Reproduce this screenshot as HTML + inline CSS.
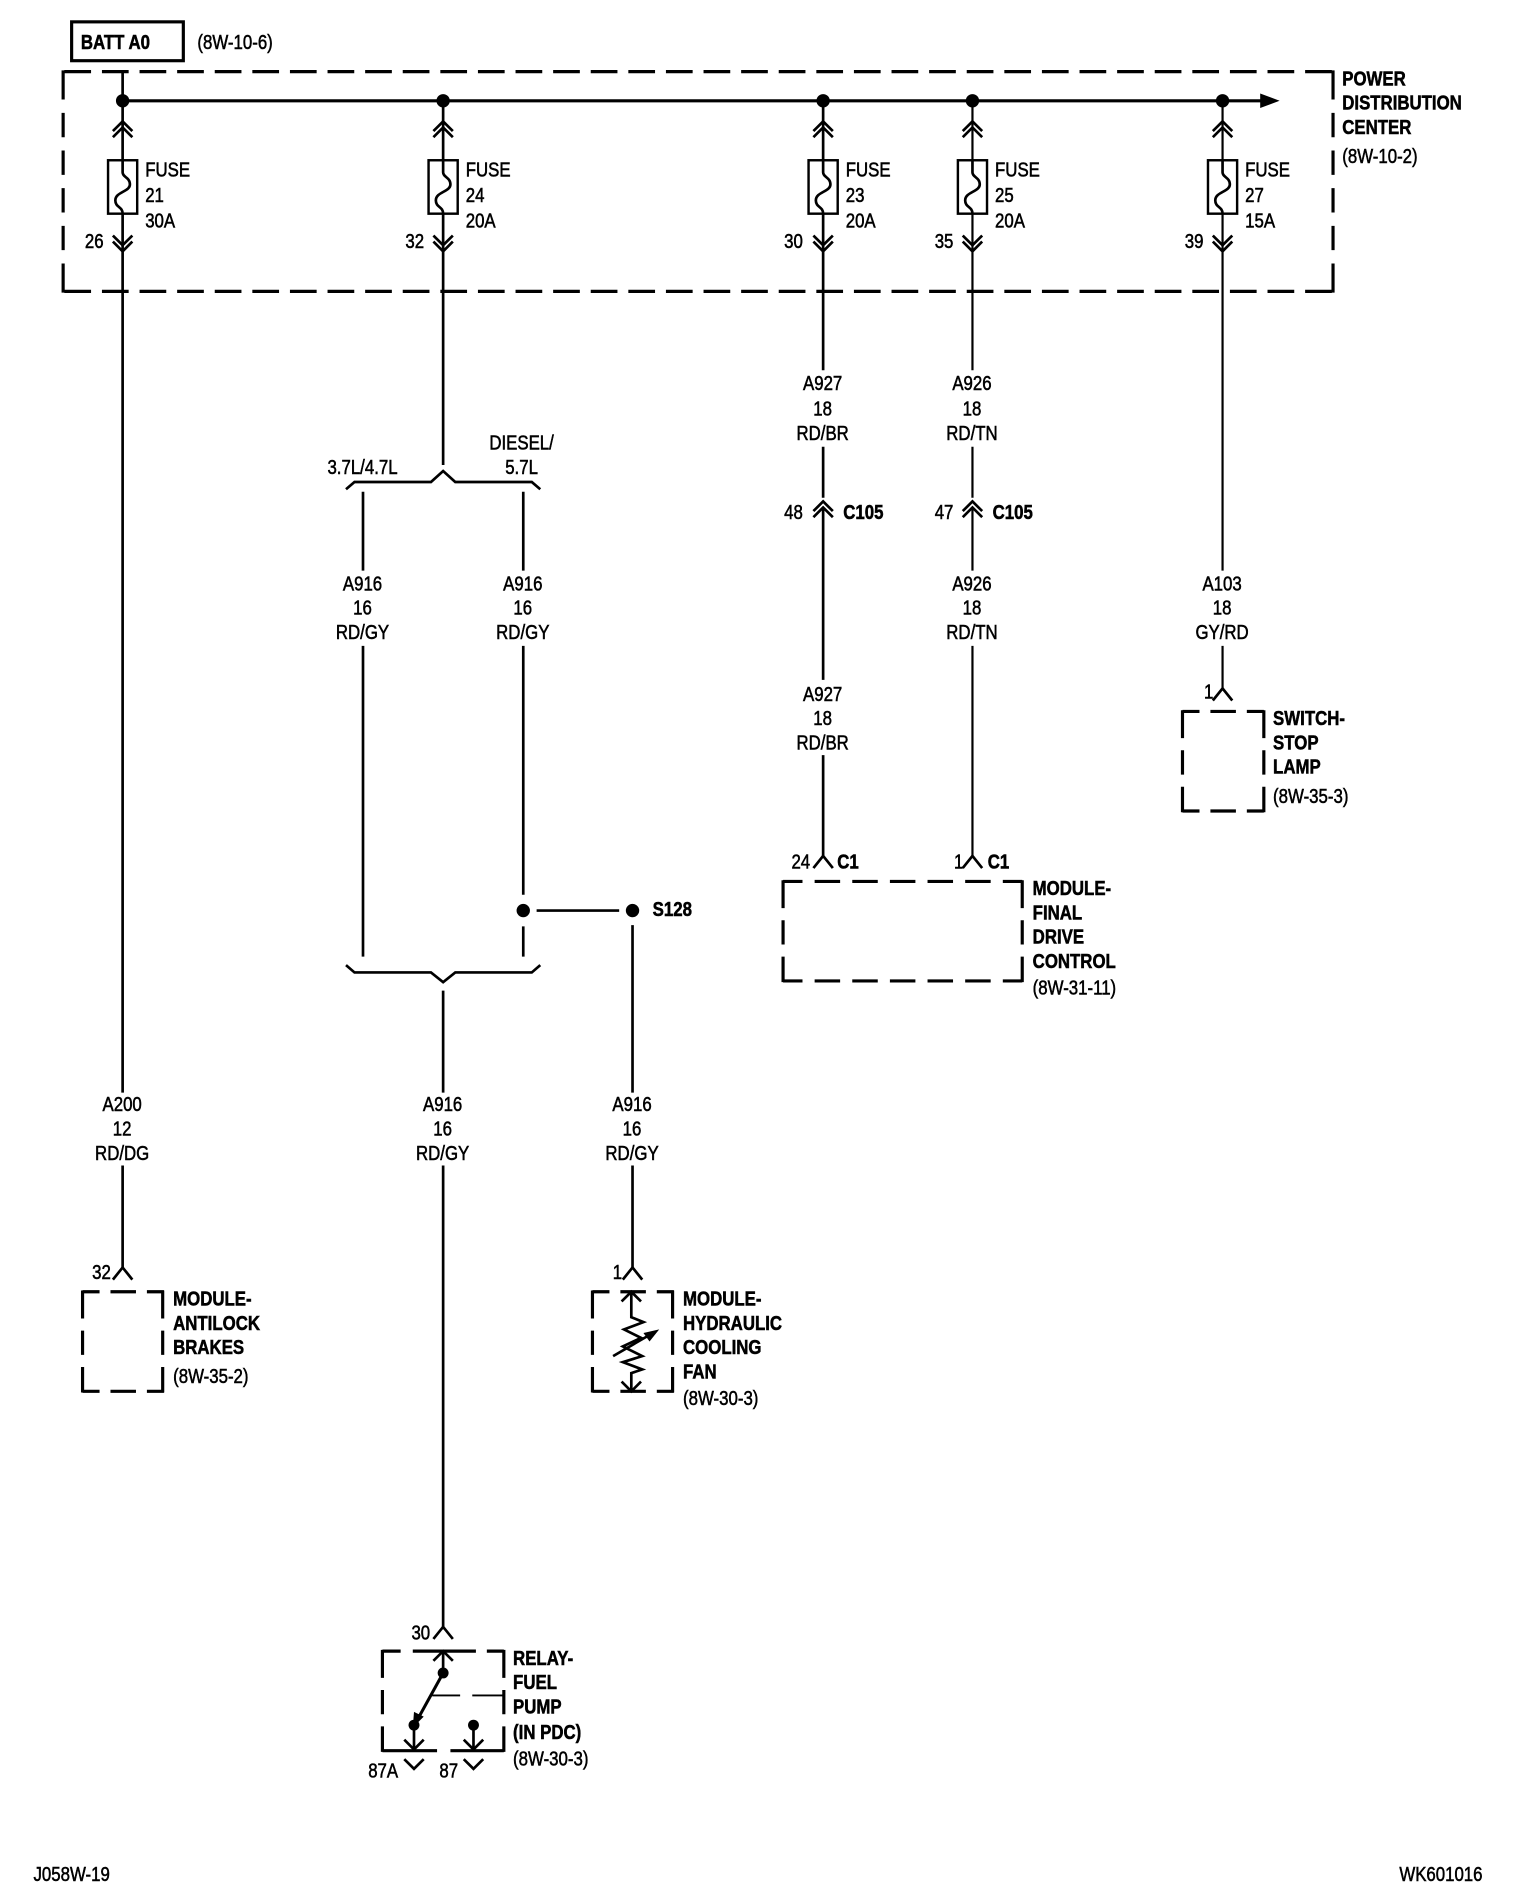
<!DOCTYPE html>
<html><head><meta charset="utf-8"><style>
html,body{margin:0;padding:0;background:#fff}
svg{display:block}
text{font-family:"Liberation Sans",sans-serif;font-size:16.5px;fill:#000;stroke:#000;stroke-width:.45}
.m{text-anchor:middle}
.b{font-weight:bold}
path,line{fill:none;stroke:#000;stroke-width:2.2}
.t{stroke-width:1.8}
.d{stroke-width:2.6}
.v{stroke-width:2.6;stroke-dasharray:23 10 20 10 23}
.h{stroke-width:2.6;stroke-dasharray:14 9 21 9 14}
.f{fill:#000;stroke:none}
</style></head><body>
<svg width="1520" height="1904" viewBox="0 0 1252 1568.3" xmlns="http://www.w3.org/2000/svg">
<defs>
<g id="du"><path d="M-8,8L0,0L8,8M-8,13L0,5L8,13"/></g>
<g id="dd"><path d="M-8,-8L0,0L8,-8M-8,-13L0,-5L8,-13"/></g>
<path id="a" d="M-8,10L0,0L8,10"/>
<path id="w" d="M-8,-8L0,0L8,-8"/>
<g id="fu"><rect x="-12" y="132" width="24" height="44" style="fill:#fff;stroke:#000;stroke-width:2"/><path d="M0,132V142C0,146 6,146 6,152C6,158 -6,158 -6,165C-6,171 0,170 0,176"/></g>
</defs>
<rect width="1252" height="1568.3" fill="#fff"/>

<!-- BATT -->
<rect x="59" y="18" width="92" height="32" style="fill:none;stroke:#000;stroke-width:2.6"/>

<!-- PDC dashed -->
<path class="d" d="M53,59H1098" stroke-dasharray="22 8.97"/>
<path class="d" d="M53,240H1098" stroke-dasharray="22 8.97"/>
<path class="d" d="M52,58V241" stroke-dasharray="24 11 20 11 20 11 20 11 20 11 24"/>
<path class="d" d="M1098,58V241" stroke-dasharray="24 11 20 11 20 11 20 11 20 11 24"/>

<!-- bus -->
<path d="M101,83H1040" style="stroke-width:2.6"/>
<path class="f" d="M1038,77L1054,83L1038,89Z"/>
<circle class="f" cx="101" cy="83" r="5.5"/><circle class="f" cx="365" cy="83" r="5.5"/><circle class="f" cx="678" cy="83" r="5.5"/><circle class="f" cx="801" cy="83" r="5.5"/><circle class="f" cx="1007" cy="83" r="5.5"/>

<!-- wires -->
<path d="M101,59V132M101,176V900M101,960V1045"/>
<path d="M365,83V132M365,176V383M365,816V900M365,960V1342"/>
<path d="M678,83V132M678,176V305M678,368V410M678,418V560M678,622V705"/>
<path class="t" d="M801,83V132M801,176V305M801,368V410M801,418V470M801,532V705"/>
<path class="t" d="M1007,83V132M1007,176V470M1007,532V568"/>
<path d="M299,405V470M299,532V788M431,405V470M431,532V737M431,763V788"/>
<path d="M442,750H510M521,762V900M521,960V1045"/>
<circle class="f" cx="431" cy="750" r="5.5"/><circle class="f" cx="521" cy="750" r="5.5"/>

<!-- braces -->
<path d="M285,403L292,397H355L365,388L375,397H438L445,403"/>
<path d="M285,795L292,801H355L365,809L375,801H438L445,795"/>

<!-- fuses and chevrons -->
<use href="#fu" x="101"/><use href="#fu" x="365"/><use href="#fu" x="678"/><use href="#fu" x="801"/><use href="#fu" x="1007"/>
<use href="#du" x="101" y="100"/><use href="#du" x="365" y="100"/><use href="#du" x="678" y="100"/><use href="#du" x="801" y="100"/><use href="#du" x="1007" y="100"/>
<use href="#dd" x="101" y="207"/><use href="#dd" x="365" y="207"/><use href="#dd" x="678" y="207"/><use href="#dd" x="801" y="207"/><use href="#dd" x="1007" y="207"/>
<use href="#du" x="678" y="413"/><use href="#du" x="801" y="413"/>

<!-- connector pins -->
<use href="#a" x="1007" y="567"/><use href="#a" x="678" y="705"/><use href="#a" x="801" y="705"/><use href="#a" x="101" y="1044"/><use href="#a" x="521" y="1044"/><use href="#a" x="365" y="1340"/>

<!-- switch box -->
<path class="v" d="M974,585V669M1041,585V669"/><path class="h" d="M974,586H1041M974,668H1041"/>
<!-- final drive box -->
<path class="v" d="M645,725V809M842,725V809"/>
<path class="d" stroke-dasharray="16 10 21 10 21 10 21 10 21 10 21 10 16" d="M645,726H842M645,808H842"/>
<!-- antilock box -->
<path class="v" d="M68,1063V1147M134,1063V1147"/><path class="h" d="M68,1064H135M68,1146H135"/>
<!-- hydraulic box -->
<path class="v" d="M488,1063V1147M554,1063V1147"/><path class="h" d="M488,1064H555M488,1146H555"/>
<path d="M520,1065V1085L530,1089L514,1095L528,1102L513,1109L529,1117L513,1122L529,1128L520,1131V1145"/>
<path d="M512,1072L520,1064L528,1072M512,1138L520,1146L528,1138"/>
<path d="M505,1117L536,1099" />
<path class="f" d="M543,1095L530,1098L535,1105Z"/>
<!-- relay box -->
<path class="v" d="M315,1359V1443M415,1359V1443"/>
<path class="d" d="M315,1360H330M340,1360H392M401,1360H415M315,1442H360M371,1442H415"/>
<path d="M356,1396.5H379M389,1396.5H414" style="stroke-width:1.5"/>
<path d="M365,1361V1378M390,1421V1441M341,1421V1441"/>
<path d="M357,1368L365,1360L373,1368"/>
<path d="M365,1378L343,1418" style="stroke-width:2.5"/>
<path class="f" d="M340,1423L341,1410L349,1414Z"/>
<circle class="f" cx="365" cy="1378" r="4.5"/><circle class="f" cx="341" cy="1421" r="4.5"/><circle class="f" cx="390" cy="1421" r="4.5"/>
<use href="#w" x="341" y="1441"/><use href="#w" x="390" y="1441"/>
<use href="#w" x="341" y="1457"/><use href="#w" x="390" y="1457"/>

<g transform="translate(-.4,-.7)">
<text class="b" transform="translate(67,41) scale(.84,1)">BATT A0</text>
<text transform="translate(163,41) scale(.84,1)">(8W-10-6)</text>

<!-- PDC labels -->
<text class="b" transform="translate(1106,71) scale(.84,1)">POWER</text>
<text class="b" transform="translate(1106,91) scale(.84,1)">DISTRIBUTION</text>
<text class="b" transform="translate(1106,111) scale(.84,1)">CENTER</text>
<text transform="translate(1106,135) scale(.84,1)">(8W-10-2)</text>

<!-- fuse labels -->
<text transform="translate(120,146) scale(.84,1)">FUSE</text><text transform="translate(120,167) scale(.84,1)">21</text><text transform="translate(120,188) scale(.84,1)">30A</text>
<text transform="translate(384,146) scale(.84,1)">FUSE</text><text transform="translate(384,167) scale(.84,1)">24</text><text transform="translate(384,188) scale(.84,1)">20A</text>
<text transform="translate(697,146) scale(.84,1)">FUSE</text><text transform="translate(697,167) scale(.84,1)">23</text><text transform="translate(697,188) scale(.84,1)">20A</text>
<text transform="translate(820,146) scale(.84,1)">FUSE</text><text transform="translate(820,167) scale(.84,1)">25</text><text transform="translate(820,188) scale(.84,1)">20A</text>
<text transform="translate(1026,146) scale(.84,1)">FUSE</text><text transform="translate(1026,167) scale(.84,1)">27</text><text transform="translate(1026,188) scale(.84,1)">15A</text>

<text class="m" transform="translate(78,205) scale(.84,1)">26</text>
<text class="m" transform="translate(342,205) scale(.84,1)">32</text>
<text class="m" transform="translate(654,205) scale(.84,1)">30</text>
<text class="m" transform="translate(778,205) scale(.84,1)">35</text>
<text class="m" transform="translate(984,205) scale(.84,1)">39</text>

<!-- wire labels -->
<text class="m" transform="translate(678,322) scale(.84,1)">A927</text><text class="m" transform="translate(678,343) scale(.84,1)">18</text><text class="m" transform="translate(678,363) scale(.84,1)">RD/BR</text>
<text class="m" transform="translate(801,322) scale(.84,1)">A926</text><text class="m" transform="translate(801,343) scale(.84,1)">18</text><text class="m" transform="translate(801,363) scale(.84,1)">RD/TN</text>

<text class="m" transform="translate(430,371) scale(.84,1)">DIESEL/</text>
<text class="m" transform="translate(430,391) scale(.84,1)">5.7L</text>
<text class="m" transform="translate(299,391) scale(.84,1)">3.7L/4.7L</text>

<text class="m" transform="translate(654,428) scale(.84,1)">48</text><text class="b" transform="translate(695,428) scale(.84,1)">C105</text>
<text class="m" transform="translate(778,428) scale(.84,1)">47</text><text class="b" transform="translate(818,428) scale(.84,1)">C105</text>

<text class="m" transform="translate(299,487) scale(.84,1)">A916</text><text class="m" transform="translate(299,507) scale(.84,1)">16</text><text class="m" transform="translate(299,527) scale(.84,1)">RD/GY</text>
<text class="m" transform="translate(431,487) scale(.84,1)">A916</text><text class="m" transform="translate(431,507) scale(.84,1)">16</text><text class="m" transform="translate(431,527) scale(.84,1)">RD/GY</text>
<text class="m" transform="translate(801,487) scale(.84,1)">A926</text><text class="m" transform="translate(801,507) scale(.84,1)">18</text><text class="m" transform="translate(801,527) scale(.84,1)">RD/TN</text>
<text class="m" transform="translate(1007,487) scale(.84,1)">A103</text><text class="m" transform="translate(1007,507) scale(.84,1)">18</text><text class="m" transform="translate(1007,527) scale(.84,1)">GY/RD</text>
<text class="m" transform="translate(678,578) scale(.84,1)">A927</text><text class="m" transform="translate(678,598) scale(.84,1)">18</text><text class="m" transform="translate(678,618) scale(.84,1)">RD/BR</text>

<text class="m" transform="translate(996,576) scale(.84,1)">1</text>
<text class="b" transform="translate(1049,598) scale(.84,1)">SWITCH-</text>
<text class="b" transform="translate(1049,618) scale(.84,1)">STOP</text>
<text class="b" transform="translate(1049,638) scale(.84,1)">LAMP</text>
<text transform="translate(1049,662) scale(.84,1)">(8W-35-3)</text>

<text class="m" transform="translate(660,716) scale(.84,1)">24</text><text class="b" transform="translate(690,716) scale(.84,1)">C1</text>
<text class="m" transform="translate(790,716) scale(.84,1)">1</text><text class="b" transform="translate(814,716) scale(.84,1)">C1</text>
<text class="b" transform="translate(851,738) scale(.84,1)">MODULE-</text>
<text class="b" transform="translate(851,758) scale(.84,1)">FINAL</text>
<text class="b" transform="translate(851,778) scale(.84,1)">DRIVE</text>
<text class="b" transform="translate(851,798) scale(.84,1)">CONTROL</text>
<text transform="translate(851,820) scale(.84,1)">(8W-31-11)</text>

<text class="b" transform="translate(538,755) scale(.84,1)">S128</text>

<text class="m" transform="translate(101,916) scale(.84,1)">A200</text><text class="m" transform="translate(101,936) scale(.84,1)">12</text><text class="m" transform="translate(101,956) scale(.84,1)">RD/DG</text>
<text class="m" transform="translate(365,916) scale(.84,1)">A916</text><text class="m" transform="translate(365,936) scale(.84,1)">16</text><text class="m" transform="translate(365,956) scale(.84,1)">RD/GY</text>
<text class="m" transform="translate(521,916) scale(.84,1)">A916</text><text class="m" transform="translate(521,936) scale(.84,1)">16</text><text class="m" transform="translate(521,956) scale(.84,1)">RD/GY</text>

<text class="m" transform="translate(84,1054) scale(.84,1)">32</text>
<text class="b" transform="translate(143,1076) scale(.84,1)">MODULE-</text>
<text class="b" transform="translate(143,1096) scale(.84,1)">ANTILOCK</text>
<text class="b" transform="translate(143,1116) scale(.84,1)">BRAKES</text>
<text transform="translate(143,1140) scale(.84,1)">(8W-35-2)</text>

<text class="m" transform="translate(509,1054) scale(.84,1)">1</text>
<text class="b" transform="translate(563,1076) scale(.84,1)">MODULE-</text>
<text class="b" transform="translate(563,1096) scale(.84,1)">HYDRAULIC</text>
<text class="b" transform="translate(563,1116) scale(.84,1)">COOLING</text>
<text class="b" transform="translate(563,1136) scale(.84,1)">FAN</text>
<text transform="translate(563,1158) scale(.84,1)">(8W-30-3)</text>

<text class="m" transform="translate(347,1351) scale(.84,1)">30</text>
<text class="b" transform="translate(423,1372) scale(.84,1)">RELAY-</text>
<text class="b" transform="translate(423,1392) scale(.84,1)">FUEL</text>
<text class="b" transform="translate(423,1412) scale(.84,1)">PUMP</text>
<text class="b" transform="translate(423,1433) scale(.84,1)">(IN PDC)</text>
<text transform="translate(423,1455) scale(.84,1)">(8W-30-3)</text>
<text class="m" transform="translate(316,1465) scale(.84,1)">87A</text>
<text class="m" transform="translate(370,1465) scale(.84,1)">87</text>

<text transform="translate(28,1550) scale(.84,1)">J058W-19</text>
<text transform="translate(1153,1550) scale(.84,1)">WK601016</text>
</g>
</svg>
</body></html>
